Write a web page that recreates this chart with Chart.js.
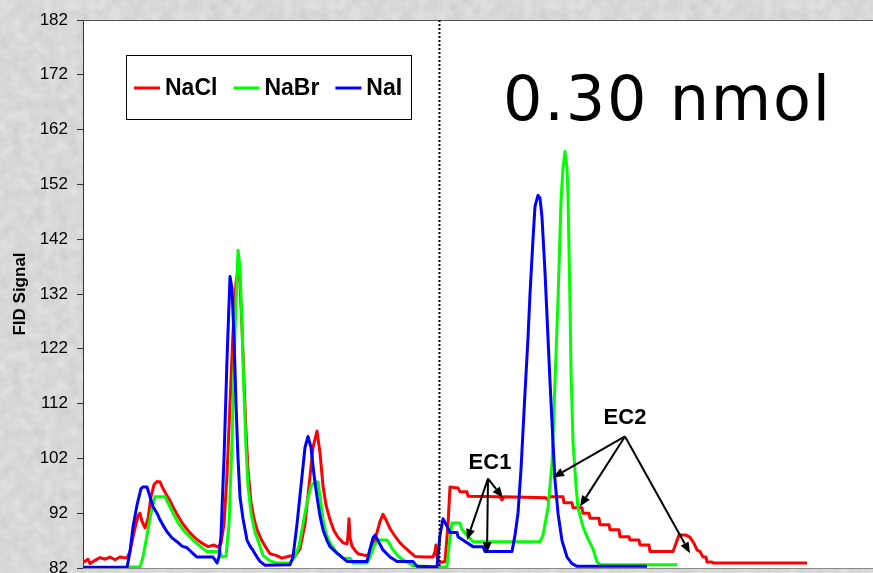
<!DOCTYPE html>
<html>
<head>
<meta charset="utf-8">
<title>FID Signal</title>
<script src="https://cdn.jsdelivr.net/npm/chart.js@4.4.1/dist/chart.umd.min.js"></script>
<style>
    html, body {
        margin: 0; padding: 0;
        background-color: #e6e6e6;
        background-image: url("data:image/svg+xml;utf8,<svg xmlns='http://www.w3.org/2000/svg' width='240' height='240'><filter id='n'><feTurbulence type='fractalNoise' baseFrequency='0.09' numOctaves='3' seed='4'/><feColorMatrix values='0 0 0 0 0  0 0 0 0 0  0 0 0 0 0  0 0 0 0.12 0'/></filter><rect width='100%' height='100%' filter='url(%23n)'/></svg>");
    }
    #wrap { width: 873px; height: 573px; }
</style>
</head>
<body>
<div id="wrap"><canvas id="fidChart" width="873" height="573"></canvas></div>
<script>
// retention time (arbitrary units) and FID signal
const naclTime = [0, 5, 7, 12, 17, 22, 27, 32, 37, 44, 47, 51, 55, 57, 59, 62, 65, 68, 71, 74, 77, 80, 83, 87, 91, 95, 99, 103, 107, 112, 117, 121, 125, 131, 135, 138,
    141, 144, 147, 150, 153, 155, 157, 159, 161, 163, 165, 168, 171, 174, 178, 182, 187, 193, 199, 207, 213, 217, 222, 226, 230, 234, 237, 240, 243, 247, 251, 255,
    260, 264, 265, 266, 267, 269, 272, 275, 282, 287, 290, 294, 297, 300, 303, 307, 312, 317, 322, 327, 332, 342, 350, 352, 353, 354, 357, 362, 365, 367, 375, 377,
    384, 385, 417, 419, 421, 463, 465, 467, 480, 481, 489, 490, 499, 500, 506, 507, 516, 517, 526, 527, 536, 537, 546, 547, 556, 557, 566, 567, 590, 593, 596, 603,
    607, 611, 614, 617, 620, 623, 624, 629, 630, 724];
const naclSignal = [83.0, 83.6, 82.8, 83.4, 83.9, 83.6, 84.0, 83.5, 84.0, 83.8, 85, 88.5, 91.5, 92, 90.5, 89.3, 91, 95, 97.2, 97.8, 97.7, 96.5, 95.5, 94.3, 92.8, 91.5, 90.3, 89.3, 88.4, 87.5, 86.8, 86.3, 85.9, 86.2, 85.8, 86.5,
    90, 99, 112, 125, 134, 136.5, 134, 126, 116, 107, 100, 94, 91, 89, 87.3, 86, 84.6, 84.3, 83.8, 84.2, 84.4, 85.5, 90, 97, 104, 107, 103, 97, 93.5, 90.8, 88.8, 87.6,
    86.6, 86.4, 88, 91, 87.5, 86, 85.2, 84.6, 84.3, 84.4, 86, 88.5, 90.5, 91.8, 90.8, 89.2, 87.8, 86.6, 85.7, 84.9, 84.1, 84.0, 84.0, 85, 86.2, 84, 83, 83.2, 90, 96.8, 96.6, 95.9,
    95.9, 95.1, 95.0, 94.4, 95.0, 94.8, 94.4, 95.0, 95.0, 93.9, 93.9, 93.0, 93.0, 92.0, 92.0, 91.1, 91.1, 89.9, 89.9, 89.0, 89.0, 87.7, 87.7, 87.1, 87.1, 86.2, 86.2, 85.0, 85.0, 86.5, 88.0, 88.0,
    87.6, 86.5, 85.3, 85.0, 84.0, 84.0, 83.1, 83.1, 82.9, 82.9];

const nabrTime = [0, 57, 60, 64, 68, 72, 82, 86, 90, 95, 100, 105, 110, 117, 124, 137, 139, 143, 146, 149, 152, 155, 157, 159, 161, 163, 165, 168, 172, 176, 180, 187, 194,
    207, 212, 216, 220, 224, 228, 232, 235, 237, 240, 243, 247, 251, 254, 260, 267, 270, 284, 287, 291, 295, 304, 307, 310, 315, 320, 327, 330, 357, 364, 366, 369, 377,
    379, 384, 390, 457, 460, 465, 469, 472, 475, 478, 480, 482, 484, 485, 487, 488, 490, 493, 495, 500, 504, 510, 514, 517, 594];
const nabrSignal = [82.2, 82.2, 84, 88, 92, 95, 95, 93.5, 92, 90.3, 89, 88, 87.1, 86, 85, 85, 84, 84.2, 90, 105, 125, 140, 137, 126, 114, 104, 97, 92, 88.5, 86.5, 84.3, 83.3, 82.9,
    82.9, 84, 86, 90, 94, 97, 97.7, 97.7, 95, 90.8, 88.3, 86.6, 85.5, 84.7, 83.8, 83.8, 82.9, 82.9, 84, 86, 87.1, 87.1, 86.3, 85.3, 84.2, 83.5, 82.8, 82.4, 82.2, 82.2, 86, 90.2, 90.2,
    89, 88, 86.8, 86.8, 88, 93, 101, 116, 131, 149, 155, 158, 155, 150, 130, 118, 105, 97, 93, 89.5, 87.7, 85.5, 83.1, 82.6, 82.6];

const naiTime = [0, 44, 47, 50, 54, 58, 60, 64, 67, 70, 74, 77, 81, 84, 89, 94, 99, 104, 109, 114, 130, 132, 134, 136, 138, 141, 144, 147, 149, 151, 153, 155, 157, 160, 164,
    167, 170, 174, 177, 182, 207, 210, 214, 218, 222, 225, 228, 231, 234, 237, 240, 244, 247, 254, 260, 264, 284, 287, 290, 292, 295, 300, 307, 314, 330, 334, 354, 357,
    360, 363, 365, 367, 374, 375, 384, 390, 400, 402, 429, 432, 435, 438, 440, 442, 445, 447, 450, 452, 455, 457, 459, 462, 465, 467, 470, 472, 475, 479, 484, 489, 494, 564];
const naiSignal = [82.1, 82.1, 85, 89.5, 93.5, 96.5, 96.8, 96.8, 95, 93.2, 92, 90.8, 89.5, 88.6, 87.5, 86.8, 86, 85.7, 84.8, 84, 84, 83.5, 82.9, 84, 88, 102, 120, 135.2, 133, 124, 112, 102, 95, 91, 87.1,
    86, 85.2, 84, 83.2, 82.5, 82.6, 84, 90, 97, 104, 106, 104, 99, 95, 91.5, 89, 87, 85.9, 84.7, 83.8, 83.2, 83.2, 85.5, 87.5, 88, 87, 85.3, 84, 83.2, 83.2, 82.3, 82.2, 88,
    91, 90, 89.3, 88.5, 88.5, 87.7, 86.6, 85.9, 85.9, 85, 85, 88, 92, 100, 107, 114, 124, 132, 142, 148, 150, 149.5, 146, 136, 124, 116, 105, 98, 92, 87, 84, 82.8, 82.3, 82.3];

const seriesNames = ['NaCl', 'NaBr', 'NaI'];
const signalTicks = [82, 92, 102, 112, 122, 132, 142, 152, 162, 172, 182];

// sample-size label and the time where the second injection starts
const amountLabel = '0.30 nmol';
const injectionTime = 356;

// callouts: label position, arrow origin, arrow tips (time, signal)
const ec1Label = [407, 101.2];
const ec1From = [405, 98.3];
const ec1Tips = [[384, 87.1], [404, 84.7], [420, 94.8]];
const ec2Label = [542, 109.4];
const ec2From = [542, 106.0];
const ec2Tips = [[470, 98.5], [497, 93.2], [607, 84.7]];

function zip(xs, ys) {
    return xs.map((x, i) => ({ x: x, y: ys[i] }));
}

function drawArrow(ctx, x1, y1, x2, y2) {
    const ang = Math.atan2(y2 - y1, x2 - x1);
    const head = 11, half = 4.5;
    const bx = x2 - head * Math.cos(ang);
    const by = y2 - head * Math.sin(ang);
    ctx.beginPath();
    ctx.moveTo(x1, y1);
    ctx.lineTo(bx, by);
    ctx.stroke();
    ctx.beginPath();
    ctx.moveTo(x2, y2);
    ctx.lineTo(bx + half * Math.sin(ang), by - half * Math.cos(ang));
    ctx.lineTo(bx - half * Math.sin(ang), by + half * Math.cos(ang));
    ctx.closePath();
    ctx.fill();
}

const decor = {
    id: 'decor',
    beforeDraw(chart) {
        const { ctx, chartArea: a } = chart;
        ctx.save();
        ctx.fillStyle = '#ffffff';
        ctx.fillRect(a.left, a.top, a.right - a.left, a.bottom - a.top);
        ctx.restore();
    },
    afterDraw(chart) {
        const { ctx, chartArea: a } = chart;
        const xs = chart.scales.x, ys = chart.scales.y;
        ctx.save();

        // frame top and bottom
        ctx.lineWidth = 1;
        ctx.strokeStyle = '#555555';
        ctx.beginPath();
        ctx.moveTo(a.left, a.top + 0.5);
        ctx.lineTo(a.right, a.top + 0.5);
        ctx.stroke();
        ctx.strokeStyle = '#8a8a8a';
        ctx.beginPath();
        ctx.moveTo(a.left, a.bottom + 0.5);
        ctx.lineTo(a.right, a.bottom + 0.5);
        ctx.stroke();

        // dotted injection marker
        const ix = Math.round(xs.getPixelForValue(injectionTime)) + 0.5;
        ctx.strokeStyle = '#000000';
        ctx.lineWidth = 2;
        ctx.setLineDash([2, 2]);
        ctx.beginPath();
        ctx.moveTo(ix, a.top);
        ctx.lineTo(ix, a.bottom);
        ctx.stroke();
        ctx.setLineDash([]);

        // legend box
        const lx = a.left + 43, ly = a.top + 35;
        ctx.fillStyle = '#ffffff';
        ctx.fillRect(lx, ly, 285, 64);
        ctx.lineWidth = 1;
        ctx.strokeStyle = '#000000';
        ctx.strokeRect(lx + 0.5, ly + 0.5, 285, 64);
        ctx.font = 'bold 23px "Liberation Sans", Arial, sans-serif';
        ctx.textBaseline = 'middle';
        ctx.textAlign = 'left';
        let cx = lx + 8;
        const cy = ly + 33;
        chart.data.datasets.forEach(ds => {
            ctx.strokeStyle = ds.borderColor;
            ctx.lineWidth = 3;
            ctx.beginPath();
            ctx.moveTo(cx, cy);
            ctx.lineTo(cx + 26, cy);
            ctx.stroke();
            ctx.fillStyle = '#000000';
            ctx.fillText(ds.label, cx + 31, cy + 1);
            cx += 31 + ctx.measureText(ds.label).width + 16;
        });

        // sample amount
        ctx.font = '62px "DejaVu Sans", Verdana, sans-serif';
        ctx.textBaseline = 'alphabetic';
        ctx.fillStyle = '#000000';
        const wTarget = 327;
        const wText = ctx.measureText(amountLabel).width;
        ctx.letterSpacing = ((wTarget - wText) / (amountLabel.length - 1)).toFixed(1) + 'px';
        ctx.fillText(amountLabel, xs.getPixelForValue(420), ys.getPixelForValue(163.8));
        ctx.letterSpacing = '0px';

        // EC callouts
        ctx.font = 'bold 22px "Liberation Sans", Arial, sans-serif';
        ctx.textAlign = 'center';
        ctx.textBaseline = 'middle';
        ctx.fillText('EC1', xs.getPixelForValue(ec1Label[0]), ys.getPixelForValue(ec1Label[1]));
        ctx.fillText('EC2', xs.getPixelForValue(ec2Label[0]), ys.getPixelForValue(ec2Label[1]));
        ctx.strokeStyle = '#000000';
        ctx.fillStyle = '#000000';
        ctx.lineWidth = 2;
        [[ec1From, ec1Tips], [ec2From, ec2Tips]].forEach(([from, tips]) => {
            const fx = xs.getPixelForValue(from[0]), fy = ys.getPixelForValue(from[1]);
            tips.forEach(t => {
                drawArrow(ctx, fx, fy, xs.getPixelForValue(t[0]), ys.getPixelForValue(t[1]));
            });
        });
        ctx.restore();
    }
};

const data = {
    datasets: [
        { label: seriesNames[0], data: zip(naclTime, naclSignal), borderColor: '#ff0000', order: 3 },
        { label: seriesNames[1], data: zip(nabrTime, nabrSignal), borderColor: '#00ff00', order: 2 },
        { label: seriesNames[2], data: zip(naiTime, naiSignal), borderColor: '#0000ff', order: 1 }
    ].map(ds => Object.assign(ds, {
        borderWidth: 3,
        pointRadius: 0,
        fill: false,
        tension: 0,
        borderJoinStyle: 'round'
    }))
};

const config = {
    type: 'line',
    data: data,
    options: {
        responsive: false,
        animation: false,
        layout: { padding: { top: 20, right: 0, bottom: 5, left: 0 } },
        plugins: {
            legend: { display: false },
            tooltip: { enabled: false }
        },
        scales: {
            x: { type: 'linear', min: 0, max: 790, display: false },
            y: {
                min: 82,
                max: 182,
                afterFit: scale => {
                    scale.width = 83;
                    scale.paddingTop = 0;
                    scale.paddingBottom = 0;
                },
                afterBuildTicks: scale => { scale.ticks = signalTicks.map(v => ({ value: v })); },
                ticks: {
                    color: '#000000',
                    padding: 9,
                    font: { family: '"Liberation Sans", Arial, sans-serif', size: 17 }
                },
                grid: { drawOnChartArea: false, drawTicks: true, tickLength: 6, color: '#333333' },
                border: { display: true, color: '#333333', width: 1 },
                title: {
                    display: true,
                    text: 'FID Signal',
                    color: '#000000',
                    padding: { top: 10, bottom: 0 },
                    font: { family: '"Liberation Sans", Arial, sans-serif', size: 17, weight: 'bold' }
                }
            }
        }
    },
    plugins: [decor]
};

const ctx = document.getElementById('fidChart').getContext('2d');
const fidChart = new Chart(ctx, config);
</script>
</body>
</html>
